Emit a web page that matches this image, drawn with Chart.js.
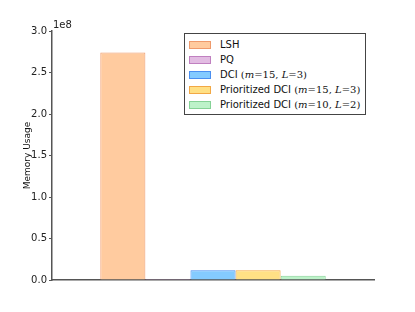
<!DOCTYPE html>
<html lang="en">
<head>
    <meta charset="UTF-8">
    <title>Memory Usage</title>
    <style>
        body { margin: 0; background: white; font-family: "DejaVu Sans", sans-serif; }
        #wrap { position: relative; width: 415px; height: 312px; }
        #legend {
            position: absolute; left: 184px; top: 33px; width: 182px;
            border: 1px solid #444; background: white; padding: 3px 0 2px 0;
            font-size: 10px; color: #111; white-space: nowrap; box-sizing: border-box;
        }
        .row { display: flex; align-items: center; height: 15px; }
        .sw { width: 22px; height: 8px; margin: 0 9px 0 4px; border: 1px solid; box-sizing: border-box; flex: none; }
        .m { font-family: "DejaVu Serif", serif; font-style: italic; }
        .n { font-family: "DejaVu Serif", serif; }
    </style>
    <script src="https://cdn.jsdelivr.net/npm/chart.js"></script>
</head>
<body>
<div id="wrap">
    <canvas id="chart" width="415" height="312"></canvas>
    <div id="legend"></div>
</div>
<script>
    const methods = ['LSH', 'PQ', 'DCI', 'Prioritized DCI', 'Prioritized DCI'];
    const params = ['', '', '(m=15, L=3)', '(m=15, L=3)', '(m=10, L=2)'];
    const memory = [2.74e8, 1.2e6, 1.17e7, 1.17e7, 5.2e6];
    const fills = ['#ffcb9f', '#e2bce2', '#84cbff', '#ffe085', '#bdf2c9'];
    const edges = ['#ee9a6c', '#c080c0', '#4a8ff0', '#f2a845', '#85d296'];
    const yTicks = [0, 0.5e8, 1e8, 1.5e8, 2e8, 2.5e8, 3e8];

    function mathLabel(p) {
        if (!p) return '';
        const m = p.match(/m=(\d+), L=(\d+)/);
        return ' <span class="n">(</span><span class="m">m</span><span class="n">=' + m[1] +
            ', </span><span class="m">L</span><span class="n">=' + m[2] + ')</span>';
    }

    const legend = document.getElementById('legend');
    methods.forEach((name, i) => {
        const row = document.createElement('div');
        row.className = 'row';
        row.innerHTML = `<div class="sw" style="background:${fills[i]};border-color:${edges[i]}"></div><span>${name}${mathLabel(params[i])}</span>`;
        legend.appendChild(row);
    });

    const offsetText = {
        id: 'offsetText',
        afterDraw(chart) {
            const ctx = chart.ctx;
            ctx.save();
            ctx.font = '10px "DejaVu Sans"';
            ctx.fillStyle = '#222';
            ctx.textBaseline = 'bottom';
            ctx.fillText('1e8', chart.chartArea.left + 1, chart.chartArea.top - 1);
            ctx.restore();
        }
    };

    new Chart(document.getElementById('chart').getContext('2d'), {
        type: 'bar',
        data: {
            labels: [''],
            datasets: memory.map((v, i) => ({
                label: methods[i] + ' ' + params[i],
                data: [v],
                backgroundColor: fills[i],
                borderColor: edges[i],
                borderWidth: 1,
                borderSkipped: 'bottom'
            }))
        },
        options: {
            responsive: false,
            animation: false,
            layout: { padding: { left: 22, top: 31, right: 41, bottom: 32 } },
            datasets: { bar: { barPercentage: 1.0, categoryPercentage: 0.70 } },
            plugins: { legend: { display: false }, tooltip: { enabled: false } },
            scales: {
                x: {
                    grid: { display: false },
                    ticks: { display: false },
                    border: { display: true, color: '#555', width: 1.5 },
                    afterFit(scale) { scale.height = 0; }
                },
                y: {
                    min: 0,
                    max: 3e8,
                    afterBuildTicks(scale) { scale.ticks = yTicks.map(v => ({ value: v })); },
                    ticks: {
                        color: '#222',
                        padding: 2,
                        font: { family: 'DejaVu Sans', size: 10 },
                        callback: v => (v / 1e8).toFixed(1)
                    },
                    grid: { drawOnChartArea: false, tickLength: 3, color: '#555' },
                    border: { display: true, color: '#555', width: 1.5 },
                    title: {
                        display: true,
                        text: 'Memory Usage',
                        color: '#111',
                        padding: { top: 0, bottom: 0 },
                        font: { family: 'DejaVu Sans', size: 9 }
                    },
                    afterFit(scale) { scale.width = 30; }
                }
            }
        },
        plugins: [offsetText]
    });
</script>
</body>
</html>
